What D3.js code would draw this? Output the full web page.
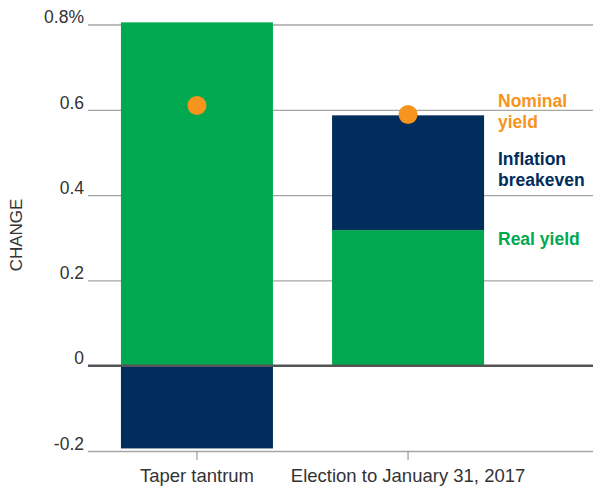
<!DOCTYPE html>
<html lang="en">
<head>
    <meta charset="UTF-8">
    <title>Real yield vs inflation breakeven</title>
    <script src="https://d3js.org/d3.v7.min.js"></script>
    <style>
        body { margin: 0; background: #fff; }
        svg { display: block; font-family: "Liberation Sans", Arial, sans-serif; }
    </style>
</head>
<body>
    <svg width="593" height="486"></svg>
    <script>
        // Data (percentage points)
        const categories = ["Taper tantrum", "Election to January 31, 2017"];
        const realYield = [0.805, 0.318];
        const inflationBreakeven = [-0.194, 0.269];
        const nominalYield = [0.61, 0.589];
        const yTicks = [-0.2, 0, 0.2, 0.4, 0.6, 0.8];
        const yTickLabels = ["-0.2", "0", "0.2", "0.4", "0.6", "0.8%"];
        const legendItems = [
            { lines: ["Nominal", "yield"], color: "#f7941d", y: 107 },
            { lines: ["Inflation", "breakeven"], color: "#002d5c", y: 165 },
            { lines: ["Real yield"], color: "#00a94f", y: 245 }
        ];

        const colors = { real: "#00a94f", breakeven: "#002d5c", nominal: "#f7941d" };

        const svg = d3.select("svg");
        const W = 593;

        const x = d3.scaleBand()
            .domain(categories)
            .range([88, 517])
            .paddingInner(0.28)
            .paddingOuter(0.156);

        const y = d3.scaleLinear().domain([-0.2, 0.8]).range([451, 24.5]);

        // Gridlines + y labels
        const yAxis = svg.append("g")
            .attr("transform", "translate(88,0)")
            .call(d3.axisLeft(y)
                .tickValues(yTicks)
                .tickSize(-(W - 88))
                .tickFormat((d, i) => yTickLabels[i]));
        yAxis.select(".domain").remove();
        yAxis.selectAll(".tick line").attr("stroke", "#a6a6a6").attr("stroke-width", 1.3);
        yAxis.selectAll(".tick text")
            .attr("x", -4)
            .attr("dy", "-0.1em")
            .attr("fill", "#333")
            .style("font-size", "17.5px");

        // Stacked bars
        const rows = categories.map((c, i) => ({ cat: c, real: realYield[i], breakeven: inflationBreakeven[i] }));

        const bars = svg.append("g");
        rows.forEach(d => {
            // real yield from 0
            bars.append("rect")
                .attr("x", x(d.cat))
                .attr("width", x.bandwidth())
                .attr("y", y(Math.max(0, d.real)))
                .attr("height", Math.abs(y(d.real) - y(0)))
                .attr("fill", colors.real);
            // breakeven stacked on top of positive real yield, or below zero if negative
            const b0 = d.breakeven >= 0 ? d.real : 0;
            const b1 = b0 + d.breakeven;
            bars.append("rect")
                .attr("x", x(d.cat))
                .attr("width", x.bandwidth())
                .attr("y", y(Math.max(b0, b1)))
                .attr("height", Math.abs(y(b0) - y(b1)))
                .attr("fill", colors.breakeven);
        });

        // Zero line over the bars
        svg.append("line")
            .attr("x1", 88).attr("x2", W)
            .attr("y1", y(0)).attr("y2", y(0))
            .attr("stroke", "#555").attr("stroke-width", 2.5);

        // Nominal yield dots
        svg.append("g").selectAll("circle")
            .data(categories)
            .join("circle")
            .attr("cx", d => x(d) + x.bandwidth() / 2)
            .attr("cy", (d, i) => y(nominalYield[i]))
            .attr("r", 9.5)
            .attr("fill", colors.nominal);

        // Category axis
        const xAxis = svg.append("g")
            .attr("transform", `translate(0,${y(-0.2)})`)
            .call(d3.axisBottom(x).tickSize(9).tickSizeOuter(0));
        xAxis.select(".domain").remove();
        xAxis.selectAll(".tick line").attr("stroke", "#888");
        xAxis.selectAll(".tick text")
            .attr("y", 31)
            .attr("dy", 0)
            .attr("fill", "#333")
            .style("font-size", "18.5px");

        // Y axis title
        svg.append("text")
            .attr("transform", "translate(22,235) rotate(-90)")
            .attr("text-anchor", "middle")
            .attr("fill", "#333")
            .style("font-size", "17px")
            .text("CHANGE");

        // Legend labels
        legendItems.forEach(item => {
            const t = svg.append("text")
                .attr("x", 498)
                .attr("y", item.y)
                .attr("fill", item.color)
                .style("font-size", "17.5px")
                .style("font-weight", "bold");
            item.lines.forEach((l, i) => {
                t.append("tspan").attr("x", 498).attr("dy", i === 0 ? 0 : 21).text(l);
            });
        });
    </script>
</body>
</html>
